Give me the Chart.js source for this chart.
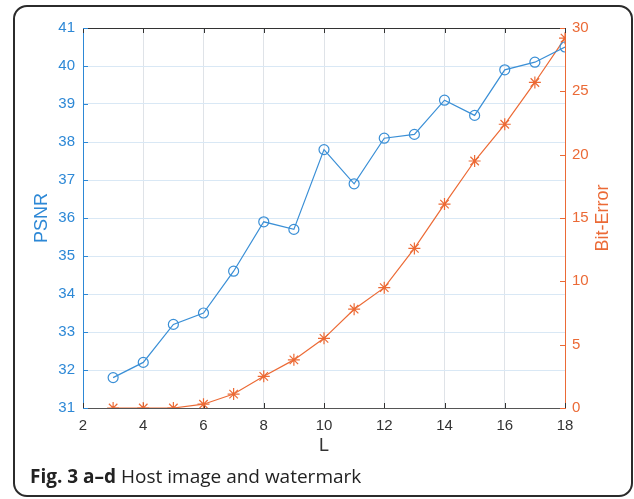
<!DOCTYPE html>
<html>
<head>
<meta charset="utf-8">
<script src="https://cdn.jsdelivr.net/npm/chart.js@4"></script>
<style>
  html, body { margin: 0; padding: 0; background: #fff; }
  #wrap { position: relative; width: 634px; height: 499px; overflow: hidden; }
  #frame {
    position: absolute; left: 13px; top: 5px; width: 616px; height: 488px;
    border: 2px solid #2b2b2b; border-radius: 14px;
  }
  #chart { position: absolute; left: 0; top: 0; }
  #caption {
    position: absolute; left: 30px; top: 467px;
    font-family: "Open Sans", sans-serif; font-size: 19px; line-height: 1;
    color: #222; white-space: nowrap;
  }
  #caption b { font-weight: 700; }
</style>
</head>
<body>
<div id="wrap">
  <div id="frame"></div>
  <canvas id="chart" width="634" height="499"></canvas>
  <div id="caption"><b>Fig. 3 a–d</b> Host image and watermark</div>
</div>
<script>
// data
const L = [3, 4, 5, 6, 7, 8, 9, 10, 11, 12, 13, 14, 15, 16, 17, 18];
const psnr = [31.8, 32.2, 33.2, 33.5, 34.6, 35.9, 35.7, 37.8, 36.9, 38.1, 38.2, 39.1, 38.7, 39.9, 40.1, 40.5];
const bitError = [0, 0, 0, 0.3, 1.1, 2.5, 3.8, 5.5, 7.8, 9.5, 12.6, 16.1, 19.5, 22.4, 25.7, 29.2];

const blue = "#3a8fd6";
const blueText = "#2d88d6";
const orange = "#ec6a35";
const orangeText = "#eb6a36";
const dark = "#333333";
const fontFam = "'Liberation Sans', Arial, sans-serif";

// MATLAB-style inward ticks + top box line
const boxTicks = {
  id: "boxTicks",
  beforeDatasetsDraw(chart) {
    const { ctx, chartArea: a, scales } = chart;
    const len = 5;
    ctx.save();
    ctx.lineWidth = 1;
    ctx.strokeStyle = dark;
    ctx.beginPath();
    ctx.moveTo(a.left, a.top + 0.5);
    ctx.lineTo(a.right, a.top + 0.5);
    scales.x.ticks.forEach(t => {
      const px = Math.round(scales.x.getPixelForValue(t.value)) + 0.5;
      ctx.moveTo(px, a.bottom);
      ctx.lineTo(px, a.bottom - len);
      ctx.moveTo(px, a.top);
      ctx.lineTo(px, a.top + len);
    });
    ctx.stroke();

    ctx.strokeStyle = blueText;
    ctx.beginPath();
    scales.y.ticks.forEach(t => {
      const py = Math.round(scales.y.getPixelForValue(t.value)) + 0.5;
      ctx.moveTo(a.left, py);
      ctx.lineTo(a.left + len, py);
    });
    ctx.stroke();

    ctx.strokeStyle = orangeText;
    ctx.beginPath();
    scales.y1.ticks.forEach(t => {
      const py = Math.round(scales.y1.getPixelForValue(t.value)) + 0.5;
      ctx.moveTo(a.right, py);
      ctx.lineTo(a.right - len, py);
    });
    ctx.stroke();
    ctx.restore();
  },
  afterDraw(chart) {
    // right axis title reads bottom-to-top like MATLAB
    const { ctx, chartArea: a } = chart;
    ctx.save();
    ctx.translate(603, (a.top + a.bottom) / 2);
    ctx.rotate(-Math.PI / 2);
    ctx.font = "18px " + fontFam;
    ctx.fillStyle = orangeText;
    ctx.textAlign = "center";
    ctx.textBaseline = "middle";
    ctx.fillText("Bit-Error", 0, 0);
    ctx.restore();
  }
};

new Chart(document.getElementById("chart"), {
  type: "line",
  data: {
    datasets: [
      {
        label: "PSNR",
        data: L.map((x, i) => ({ x, y: psnr[i] })),
        yAxisID: "y",
        borderColor: blue,
        borderWidth: 1.2,
        pointStyle: "circle",
        pointRadius: 5,
        pointBorderWidth: 1.2,
        pointBorderColor: blue,
        pointBackgroundColor: "rgba(0,0,0,0)",
        tension: 0
      },
      {
        label: "Bit-Error",
        data: L.map((x, i) => ({ x, y: bitError[i] })),
        yAxisID: "y1",
        borderColor: orange,
        borderWidth: 1.2,
        pointStyle: "star",
        pointRadius: 6,
        pointBorderWidth: 1.2,
        pointBorderColor: orange,
        pointBackgroundColor: orange,
        tension: 0
      }
    ]
  },
  options: {
    responsive: false,
    animation: false,
    devicePixelRatio: 1,
    layout: { padding: { left: 27, right: 0, top: 28, bottom: 38 } },
    plugins: { legend: { display: false }, tooltip: { enabled: false } },
    scales: {
      x: {
        type: "linear",
        min: 2, max: 18,
        ticks: { stepSize: 2, color: dark, padding: 9, font: { family: fontFam, size: 15 } },
        grid: { color: "#dfe3e8", drawTicks: false },
        border: { color: "#555" },
        title: { display: true, text: "L", color: dark, font: { family: fontFam, size: 18 } },
        afterFit: s => { s.height = 53; }
      },
      y: {
        position: "left",
        min: 31, max: 41,
        ticks: { stepSize: 1, color: blueText, padding: 8, font: { family: fontFam, size: 15 } },
        grid: { color: "#d9e8f5", drawTicks: false },
        border: { color: blueText },
        title: { display: true, text: "PSNR", color: blueText, font: { family: fontFam, size: 18 } },
        afterFit: s => { s.width = 56; }
      },
      y1: {
        position: "right",
        min: 0, max: 30,
        ticks: { stepSize: 5, color: orangeText, padding: 7, font: { family: fontFam, size: 15 } },
        grid: { drawOnChartArea: false, drawTicks: false },
        border: { color: orangeText },
        afterFit: s => { s.width = 69; }
      }
    }
  },
  plugins: [boxTicks]
});
</script>
</body>
</html>
